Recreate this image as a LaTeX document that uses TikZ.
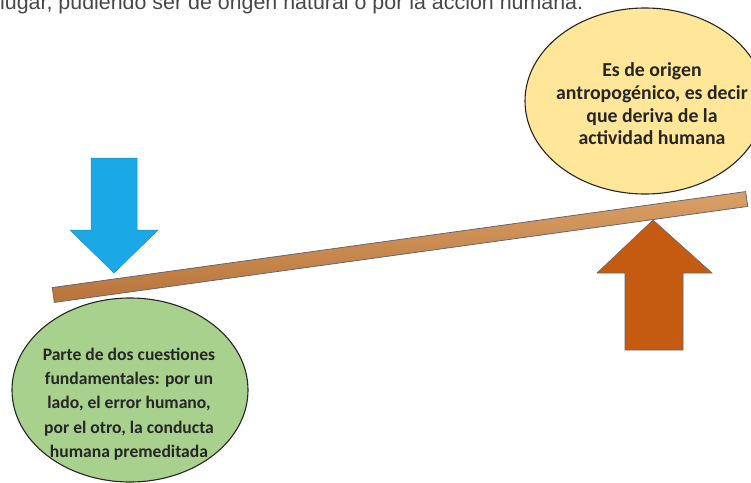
\documentclass[tikz,border=0pt]{standalone}
\usepackage{fontspec}
\setmainfont{Carlito}
\newfontfamily\introfont{Liberation Sans}
\usetikzlibrary{shapes.geometric}
\definecolor{greenfill}{RGB}{169,209,142}
\definecolor{yellowfill}{RGB}{255,230,153}
\definecolor{arrowblue}{RGB}{27,168,230}
\definecolor{arrowbrown}{RGB}{197,90,17}
\definecolor{woodlight}{RGB}{218,160,102}
\definecolor{wooddark}{RGB}{184,116,58}
\definecolor{woodedge}{RGB}{96,104,120}

\begin{document}
\begin{tikzpicture}[x=1pt,y=-1pt,
  bubble/.style={ellipse,draw=black!85,line width=1.1pt,inner sep=0pt},
  bubbletext/.style={align=center,inner sep=0pt,text=black!85}]
\useasboundingbox (0,0) rectangle (751,482);
\clip (0,0) rectangle (751,482);
\node[anchor=base west,inner sep=0pt,text=black!72,font=\introfont\fontsize{21.4}{25}\selectfont] (intro) at (0,9) {lugar, pudiendo ser de origen natural o por la acción humana.};
\node[bubble,fill=yellowfill,minimum width=240pt,minimum height=186pt] (anthro) at (645,101) {};
\node[bubbletext,font=\fontsize{19.8}{22.7}\selectfont\bfseries] (anthrotext) at (652,104) {Es de origen\\antropogénico, es decir\\que deriva de la\\actividad humana};
\node[bubble,fill=greenfill,minimum width=236pt,minimum height=184pt] (human) at (130,390) {};
\node[bubbletext,font=\fontsize{17.6}{24.3}\selectfont\bfseries] (humantext) at (129,404) {Parte de dos cuestiones\\fundamentales: por un\\lado, el error humano,\\por el otro, la conducta\\humana premeditada};
\filldraw[fill=arrowblue,draw=arrowblue!85!black,line width=0.5pt] (91,158) -- (137,158) -- (137,230) -- (158,230) -- (114,273) -- (70,230) -- (91,230) -- cycle;
\filldraw[fill=arrowbrown,draw=woodedge,line width=0.6pt] (625,350) -- (683,350) -- (683,273) -- (712,273) -- (653,220) -- (597,273) -- (625,273) -- cycle;
\node[rectangle,draw=woodedge,line width=0.8pt,top color=woodlight,bottom color=wooddark,minimum width=700pt,minimum height=15pt,inner sep=0pt,rotate=7.88] (plank) at (400,247) {};
\end{tikzpicture}
\end{document}
